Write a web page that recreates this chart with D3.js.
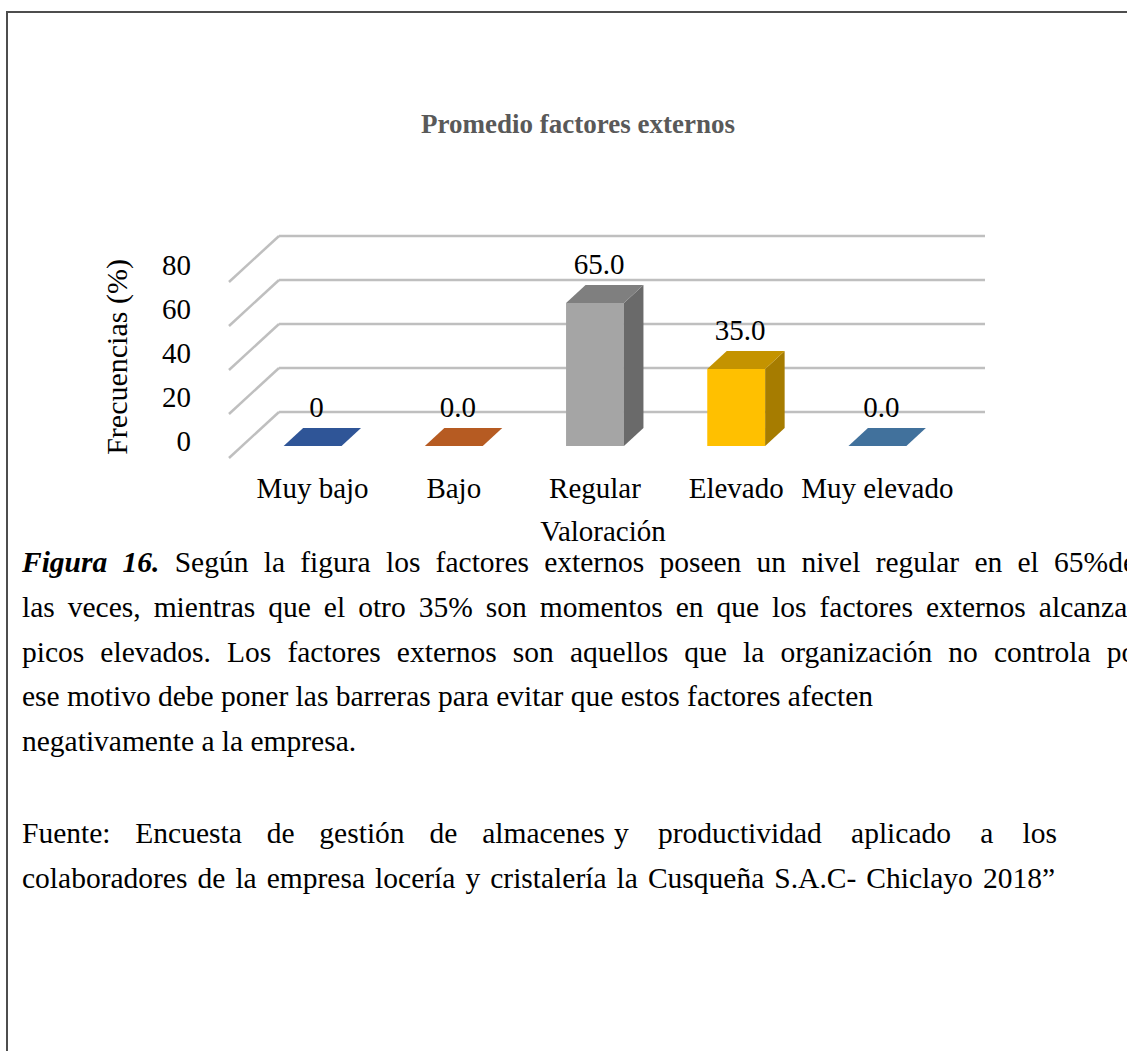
<!DOCTYPE html>
<html>
<head>
<meta charset="utf-8">
<script src="https://cdn.jsdelivr.net/npm/d3@7"></script>
<style>
  body { margin: 0; background: #fff; }
  svg { display: block; }
</style>
</head>
<body>
<div id="chart"></div>
<script>
// data
const categories = ["Muy bajo", "Bajo", "Regular", "Elevado", "Muy elevado"];
const values = [0, 0, 65, 35, 0];
const valueLabels = ["0", "0.0", "65.0", "35.0", "0.0"];
const yTicks = [0, 20, 40, 60, 80];
const frontColors = ["#4472C4", "#ED7D31", "#A5A5A5", "#FFC000", "#5B9BD5"];
const topColors = ["#2F5597", "#B65B22", "#7F7F7F", "#C49300", "#41719C"];
const sideColors = ["#264778", "#8F4A1C", "#6A6A6A", "#A67C00", "#36618A"];

const chartTitle = "Promedio factores externos";
const yTitle = "Frecuencias (%)";
const xTitle = "Valoración";

const captionLines = [
  "las veces, mientras que el otro 35% son momentos en que los factores externos alcanzan",
  "picos elevados. Los factores externos son aquellos que la organización no controla por",
  "ese motivo debe poner las barreras para evitar que estos factores afecten",
  "negativamente a la empresa."
];
const sourceHead = "Fuente: Encuesta de gestión de almacenes";
const sourceTail = "y productividad aplicado a los";
const sourceLast = "colaboradores de la empresa locería y cristalería la Cusqueña S.A.C- Chiclayo 2018”";

const W = 1127, H = 1051;
const svg = d3.select("#chart").append("svg")
  .attr("width", W).attr("height", H)
  .style("font-family", "'Liberation Serif', 'Times New Roman', serif");

// page frame
svg.append("rect")
  .attr("x", 7).attr("y", 12)
  .attr("width", W + 20).attr("height", H + 20)
  .attr("fill", "none").attr("stroke", "#4d4d4d").attr("stroke-width", 2);

// title
svg.append("text")
  .attr("x", 578).attr("y", 133)
  .attr("text-anchor", "middle")
  .attr("font-weight", "bold")
  .attr("font-size", 27)
  .attr("fill", "#595959")
  .text(chartTitle);

// 3D-ish geometry: world x/y on the front plane, depth pushed up-right
const depthX = 50, depthY = 46;
const proj = (xw, yw, d) => [xw + depthX * d, yw - depthY * d];

const x = d3.scaleBand()
  .domain(categories)
  .range([229, 935])
  .paddingInner(0.59)
  .paddingOuter(0.295);
const y = d3.scaleLinear()
  .domain([0, 80])
  .range([458, 282]);

const dFront = 0.26, dBack = 0.65;

// walls: back gridlines + side diagonals
const walls = svg.append("g");
yTicks.forEach(t => {
  const b0 = proj(x.range()[0], y(t), 1), b1 = proj(x.range()[1], y(t), 1);
  const s0 = proj(x.range()[0], y(t), 0);
  walls.append("line")
    .attr("x1", b0[0]).attr("y1", b0[1]).attr("x2", b1[0]).attr("y2", b1[1])
    .attr("stroke", "#bfbfbf").attr("stroke-width", 2.5);
  walls.append("line")
    .attr("x1", s0[0]).attr("y1", s0[1]).attr("x2", b0[0]).attr("y2", b0[1])
    .attr("stroke", "#bfbfbf").attr("stroke-width", 2.5);
});

// tick labels
svg.append("g")
  .selectAll("text")
  .data(yTicks)
  .join("text")
    .attr("x", 191)
    .attr("y", d => y(d) - 7)
    .attr("text-anchor", "end")
    .attr("font-size", 29)
    .text(d => d);

// axis title
svg.append("text")
  .attr("transform", "translate(127,357) rotate(-90)")
  .attr("text-anchor", "middle")
  .attr("font-size", 30)
  .text(yTitle);

// bars
const bw = x.bandwidth();
const bars = svg.append("g")
  .selectAll("g")
  .data(categories)
  .join("g");

const pts = arr => arr.map(p => p.join(",")).join(" ");

bars.each(function(c, i) {
  const g = d3.select(this);
  const x0 = x(c), x1 = x(c) + bw;
  const yb = y(0), yt = y(values[i]);
  const ftl = proj(x0, yt, dFront), ftr = proj(x1, yt, dFront);
  const fbl = proj(x0, yb, dFront), fbr = proj(x1, yb, dFront);
  const btl = proj(x0, yt, dBack), btr = proj(x1, yt, dBack);
  const bbr = proj(x1, yb, dBack);
  if (values[i] > 0) {
    g.append("polygon").attr("points", pts([ftl, ftr, fbr, fbl])).attr("fill", frontColors[i]);
    g.append("polygon").attr("points", pts([ftr, btr, bbr, fbr])).attr("fill", sideColors[i]);
  }
  g.append("polygon").attr("points", pts([ftl, ftr, btr, btl])).attr("fill", topColors[i]);
});

// value labels
svg.append("g")
  .selectAll("text")
  .data(categories)
  .join("text")
    .attr("x", c => proj(x(c) + bw / 2, 0, dFront)[0] + 4)
    .attr("y", (c, i) => proj(0, y(values[i]), dFront)[1] - 29)
    .attr("text-anchor", "middle")
    .attr("font-size", 29)
    .text((c, i) => valueLabels[i]);

// category labels
svg.append("g")
  .selectAll("text")
  .data(categories)
  .join("text")
    .attr("x", c => proj(x(c) + bw / 2, 0, dFront)[0])
    .attr("y", 498)
    .attr("text-anchor", "middle")
    .attr("font-size", 29)
    .text(d => d);

svg.append("text")
  .attr("x", 603).attr("y", 541)
  .attr("text-anchor", "middle")
  .attr("font-size", 29)
  .text(xTitle);

// caption; justified lines get their spaces stretched to a right edge
const justify = (sel, right) => {
  const node = sel.node();
  const natural = node.getComputedTextLength();
  const gaps = (node.textContent.match(/ /g) || []).length;
  const left = +sel.attr("x");
  if (right && gaps) sel.attr("word-spacing", Math.max(0, (right - left - natural) / gaps));
};

const cap = svg.append("g").attr("font-size", 29.5);
const first = cap.append("text").attr("x", 22).attr("y", 572);
first.append("tspan").attr("font-weight", "bold").attr("font-style", "italic").text("Figura 16.");
first.append("tspan").text(" Según la figura los factores externos poseen un nivel regular en el 65%de");
justify(first, 1136);

const captionRight = [1142, 1146, null, null];
cap.selectAll("text.line")
  .data(captionLines)
  .join("text")
    .attr("class", "line")
    .attr("x", 22)
    .attr("y", (d, i) => 617 + i * 44.5)
    .text(d => d)
    .each(function(d, i) { justify(d3.select(this), captionRight[i]); });

// "Fuente" line: wide gaps in its first half, a little looser after
const head = cap.append("text").attr("x", 22).attr("y", 843).text(sourceHead);
justify(head, 605);
const tail = cap.append("text").attr("x", 614).attr("y", 843).text(sourceTail);
justify(tail, 1057);

const last = cap.append("text").attr("x", 22).attr("y", 887.5).text(sourceLast);
justify(last, 1055);
</script>
</body>
</html>
